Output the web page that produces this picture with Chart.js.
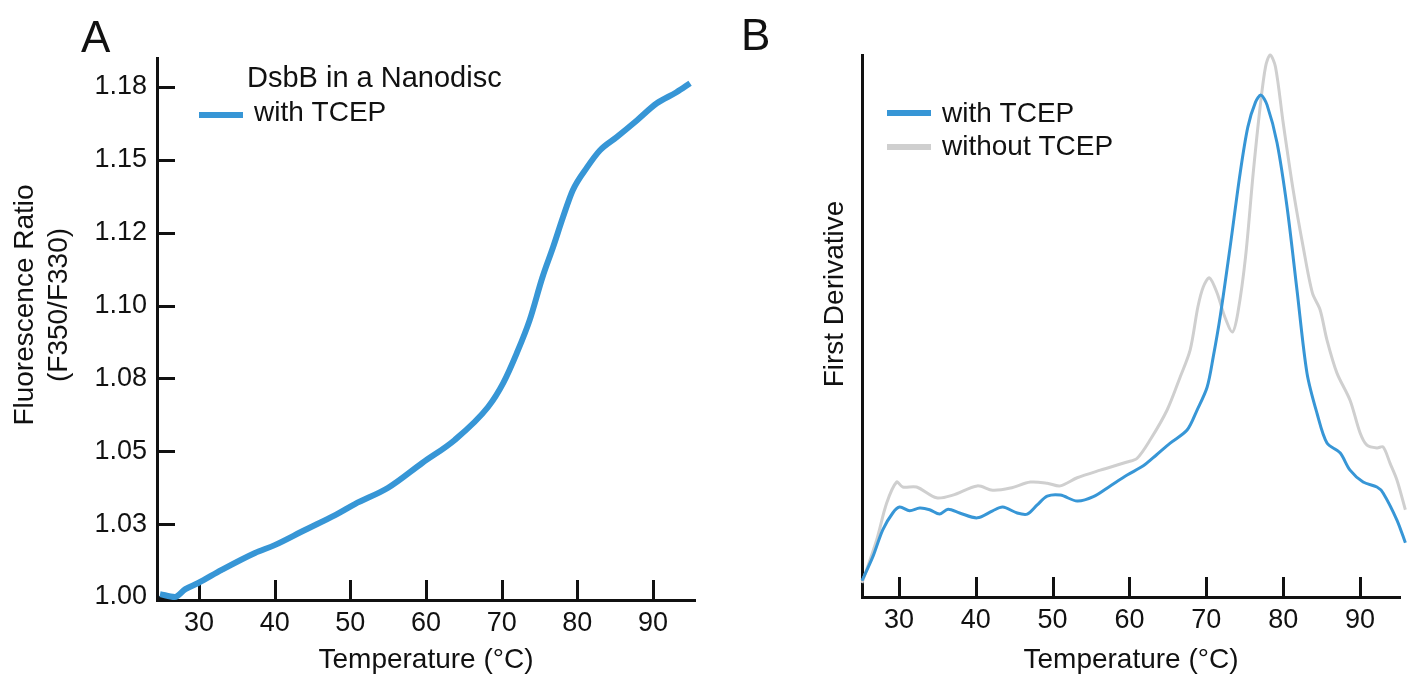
<!DOCTYPE html>
<html>
<head>
<meta charset="utf-8">
<script src="https://cdn.jsdelivr.net/npm/chart.js@4.4.1/dist/chart.umd.min.js"></script>
<style>
  html, body { margin: 0; padding: 0; background: #fff; }
  body { width: 1408px; height: 679px; position: relative; overflow: hidden; }
  .panel { position: absolute; top: 0; height: 679px; }
  #wrapA { left: 0; width: 720px; }
  #wrapB { left: 720px; width: 688px; }
</style>
</head>
<body>
<div class="panel" id="wrapA"><canvas id="chartA"></canvas></div>
<div class="panel" id="wrapB"><canvas id="chartB"></canvas></div>
<script>
// ---- panel A: fluorescence ratio, DsbB in a nanodisc with TCEP ----
const tempA = [24.85, 26.8, 28.2, 29.9, 33.0, 37.4, 40.0, 44.0, 48.0, 50.6, 55.0, 59.5, 63.8, 68.2,
    70.2, 72.0, 73.7, 75.4, 76.8, 78.1, 79.4, 81.3, 83.0, 85.2, 87.9, 90.5, 93.1, 94.9];
const ratioA = [1.0010, 1.0000, 1.0027, 1.0048, 1.0093, 1.0151, 1.0178, 1.0230, 1.0281, 1.0319, 1.0375,
    1.0460, 1.0539, 1.0652, 1.0734, 1.0837, 1.0950, 1.1098, 1.1201, 1.1303, 1.1396, 1.1475, 1.1533,
    1.1578, 1.1636, 1.1694, 1.1732, 1.1763];
const ratioTicks = [1.000, 1.025, 1.050, 1.075, 1.100, 1.125, 1.150, 1.175];
const ratioTickLabels = ["1.00", "1.03", "1.05", "1.08", "1.10", "1.12", "1.15", "1.18"];
const tempTicks = [30, 40, 50, 60, 70, 80, 90];

// ---- panel B: first derivative (arbitrary units) ----
const tempWith = [25.2, 26.6, 27.9, 29.2, 30.1, 31.4, 32.7, 34.0, 35.3, 36.4, 37.9, 40.2, 42.2, 43.5,
    45.4, 46.7, 48.0, 49.3, 51.0, 53.2, 55.3, 57.5, 59.7, 61.8, 63.5, 65.3, 67.5, 68.8, 70.1, 70.9,
    71.8, 73.1, 74.4, 75.4, 76.4, 77.1, 77.9, 79.2, 80.5, 81.8, 83.1, 84.4, 85.7, 87.4, 88.7, 90.4,
    92.2, 93.0, 94.8, 95.9];
const derivWith = [3.0, 7.4, 12.4, 15.5, 16.6, 15.9, 16.4, 16.1, 15.3, 16.2, 15.5, 14.6, 15.9, 16.6,
    15.5, 15.3, 17.0, 18.6, 18.8, 17.7, 18.5, 20.5, 22.5, 24.2, 26.2, 28.4, 30.8, 34.5, 38.7, 44.3,
    51.7, 64.6, 78.2, 86.7, 91.3, 92.6, 90.8, 83.8, 72.0, 56.6, 41.3, 33.9, 28.4, 26.6, 23.4, 21.2,
    20.3, 19.2, 14.2, 10.0];
const tempWithout = [25.2, 27.1, 28.4, 29.7, 30.5, 32.3, 34.9, 37.0, 40.2, 42.2, 44.5, 47.1, 49.3, 51.0,
    53.2, 56.2, 59.7, 61.0, 62.7, 64.9, 66.6, 67.9, 68.9, 69.6, 70.4, 71.4, 72.4, 73.4, 74.1, 75.1,
    76.1, 77.0, 77.7, 78.3, 79.0, 80.0, 81.3, 82.6, 83.8, 84.8, 85.7, 87.0, 88.7, 90.0, 90.9, 92.2,
    93.0, 93.9, 94.8, 95.9];
const derivWithout = [2.6, 10.5, 17.3, 21.2, 20.3, 20.3, 18.3, 18.8, 20.5, 19.7, 20.1, 21.2, 21.0, 20.5,
    22.0, 23.4, 24.9, 25.6, 29.0, 34.5, 40.6, 45.6, 53.5, 57.2, 58.9, 56.1, 51.7, 48.9, 52.4, 62.7,
    78.2, 90.4, 97.8, 100, 97.8, 87.5, 75.1, 64.6, 56.1, 53.0, 47.4, 41.3, 36.3, 30.3, 28.0, 27.5,
    27.7, 24.7, 21.6, 16.1];

const FONT = "'Liberation Sans', Arial, Helvetica, sans-serif";
const INK = "#111";
const BLUE = "#3796d6";
const GREY = "#cfcfcf";

function toPoints(xs, ys) {
    return xs.map((x, i) => ({ x: x, y: ys[i] }));
}

// tick marks pointing into the plot, like the original figure
const inwardTicks = {
    id: "inwardTicks",
    beforeDatasetsDraw(chart, args, opts) {
        const ctx = chart.ctx;
        const sx = chart.scales.x;
        const sy = chart.scales.y;
        ctx.save();
        ctx.strokeStyle = INK;
        ctx.lineWidth = 3;
        sx.ticks.forEach(t => {
            const px = Math.round(sx.getPixelForValue(t.value)) + 0.5;
            ctx.beginPath();
            ctx.moveTo(px, sx.top);
            ctx.lineTo(px, sx.top - opts.xLen);
            ctx.stroke();
        });
        if (opts.yLen) {
            sy.ticks.forEach(t => {
                const py = Math.round(sy.getPixelForValue(t.value)) + 0.5;
                ctx.beginPath();
                ctx.moveTo(sy.right, py);
                ctx.lineTo(sy.right + opts.yLen, py);
                ctx.stroke();
            });
        }
        ctx.restore();
    }
};

// panel letter, rotated y title and the in-plot legend
const panelText = {
    id: "panelText",
    afterDraw(chart, args, o) {
        const ctx = chart.ctx;
        ctx.save();
        ctx.fillStyle = INK;
        ctx.textBaseline = "alphabetic";

        ctx.font = "44px " + FONT;
        ctx.textAlign = "left";
        ctx.fillText(o.letter, o.letterX, o.letterY);

        ctx.font = "28px " + FONT;
        ctx.textAlign = "center";
        o.yTitle.forEach((line, i) => {
            ctx.save();
            ctx.translate(o.yTitleX[i], o.yTitleY);
            ctx.rotate(-Math.PI / 2);
            ctx.fillText(line, 0, 0);
            ctx.restore();
        });

        ctx.textAlign = "left";
        if (o.header) {
            ctx.font = o.header.size + "px " + FONT;
            ctx.fillText(o.header.text, o.header.x, o.header.y);
            ctx.font = "28px " + FONT;
        }
        o.items.forEach(it => {
            const ds = chart.data.datasets[it.ds];
            ctx.strokeStyle = ds.borderColor;
            ctx.lineWidth = it.w;
            ctx.beginPath();
            ctx.moveTo(it.x0, it.lineY);
            ctx.lineTo(it.x1, it.lineY);
            ctx.stroke();
            ctx.fillText(ds.label, it.textX, it.textY);
        });
        ctx.restore();
    }
};

function xAxis(min, max, height) {
    return {
        type: "linear",
        min: min,
        max: max,
        afterBuildTicks: s => { s.ticks = tempTicks.map(v => ({ value: v })); },
        afterFit: s => { s.height = height; },
        grid: { display: false, drawTicks: false },
        border: { display: true, color: INK, width: 3 },
        ticks: { padding: 7, color: INK, font: { size: 27, family: FONT }, maxRotation: 0, autoSkip: false },
        title: {
            display: true,
            text: "Temperature (°C)",
            color: INK,
            font: { size: 28, family: FONT },
            padding: { top: 0, bottom: 2 }
        }
    };
}

new Chart(document.getElementById("chartA"), {
    type: "line",
    data: {
        datasets: [{
            label: "with TCEP",
            data: toPoints(tempA, ratioA),
            borderColor: BLUE,
            borderWidth: 6,
            pointRadius: 0,
            cubicInterpolationMode: "monotone",
            clip: false
        }]
    },
    plugins: [inwardTicks, panelText],
    options: {
        responsive: true,
        maintainAspectRatio: false,
        animation: false,
        layout: { padding: { top: 58, right: 25, bottom: 0, left: 0 } },
        plugins: {
            legend: { display: false },
            tooltip: { enabled: false },
            inwardTicks: { xLen: 20, yLen: 18 },
            panelText: {
                letter: "A", letterX: 81, letterY: 52,
                yTitle: ["Fluorescence Ratio", "(F350/F330)"],
                yTitleX: [33, 67], yTitleY: 305,
                header: { text: "DsbB in a Nanodisc", x: 247, y: 87, size: 29 },
                items: [{ ds: 0, x0: 199, x1: 243, lineY: 115, w: 6, textX: 254, textY: 121 }]
            }
        },
        scales: {
            x: xAxis(24.45, 95.55, 79),
            y: {
                min: 0.99897,
                max: 1.18495,
                afterBuildTicks: s => { s.ticks = ratioTicks.map(v => ({ value: v })); },
                afterFit: s => { s.width = 157; },
                grid: { display: false, drawTicks: false },
                border: { display: true, color: INK, width: 3 },
                ticks: {
                    padding: 10,
                    color: INK,
                    font: { size: 27, family: FONT },
                    autoSkip: false,
                    callback: (v, i) => ratioTickLabels[i]
                }
            }
        }
    }
});

new Chart(document.getElementById("chartB"), {
    type: "line",
    data: {
        datasets: [{
            label: "with TCEP",
            data: toPoints(tempWith, derivWith),
            borderColor: BLUE,
            borderWidth: 3,
            pointRadius: 0,
            tension: 0.3,
            clip: false
        }, {
            label: "without TCEP",
            data: toPoints(tempWithout, derivWithout),
            borderColor: GREY,
            borderWidth: 3,
            pointRadius: 0,
            tension: 0.3,
            clip: false
        }]
    },
    plugins: [inwardTicks, panelText],
    options: {
        responsive: true,
        maintainAspectRatio: false,
        animation: false,
        layout: { padding: { top: 55, right: 8, bottom: 0, left: 0 } },
        plugins: {
            legend: { display: false },
            tooltip: { enabled: false },
            inwardTicks: { xLen: 20, yLen: 0 },
            panelText: {
                letter: "B", letterX: 21, letterY: 50,
                yTitle: ["First Derivative"],
                yTitleX: [123], yTitleY: 294,
                header: null,
                items: [
                    { ds: 0, x0: 167, x1: 211, lineY: 113, w: 6, textX: 222, textY: 122 },
                    { ds: 1, x0: 167, x1: 211, lineY: 147, w: 6, textX: 222, textY: 155 }
                ]
            }
        },
        scales: {
            x: xAxis(25.2, 95.2, 82),
            y: {
                min: 0,
                max: 100,
                afterFit: s => { s.width = 142; },
                grid: { display: false, drawTicks: false },
                border: { display: true, color: INK, width: 3 },
                ticks: { display: false }
            }
        }
    }
});
</script>
</body>
</html>
